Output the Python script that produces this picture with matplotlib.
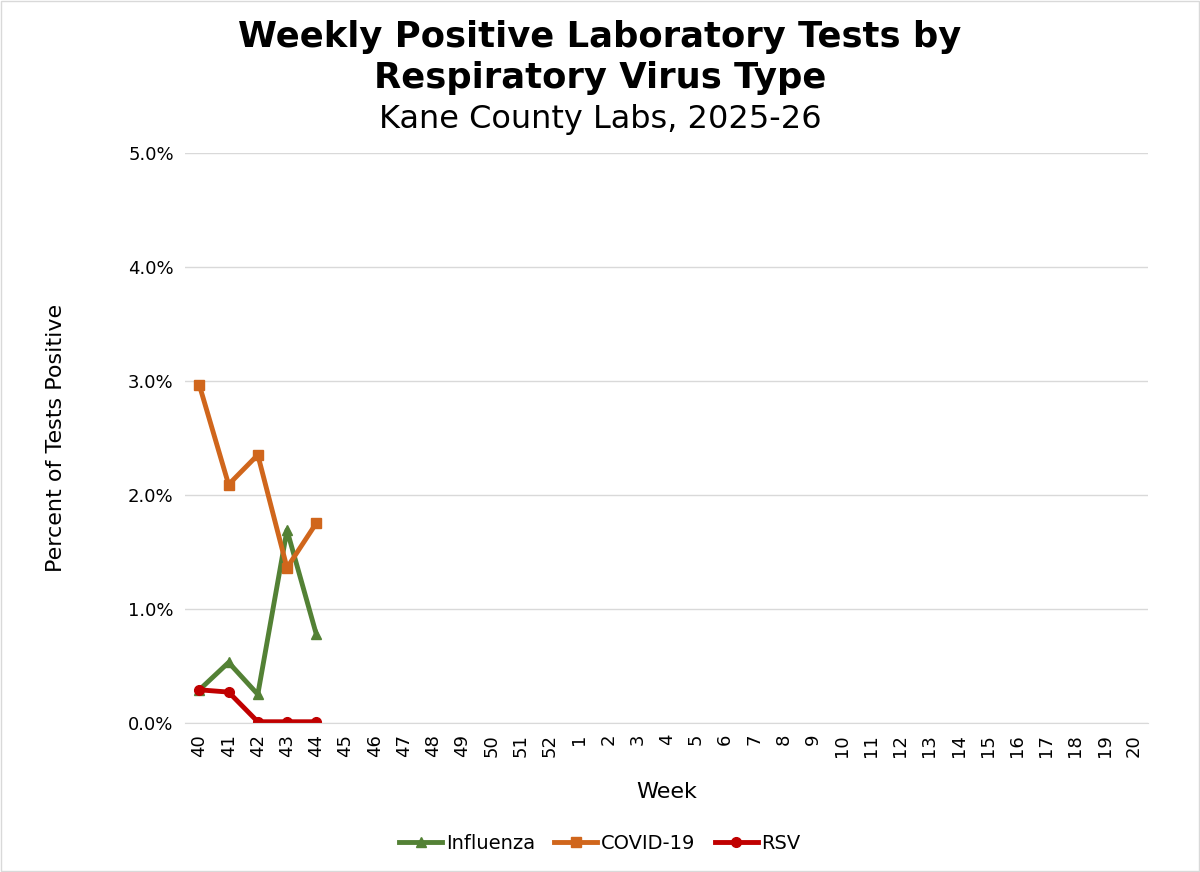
import matplotlib
matplotlib.use("Agg")
import matplotlib.pyplot as plt

weeks = [str(w) for w in list(range(40, 53)) + list(range(1, 21))]
influenza = [0.29, 0.53, 0.25, 1.69, 0.78]
covid = [2.96, 2.09, 2.35, 1.36, 1.75]
rsv = [0.29, 0.27, 0.01, 0.01, 0.01]

fig = plt.figure(figsize=(12, 8.72), dpi=100)
ax = fig.add_axes([0.154, 0.171, 0.803, 0.654])
x = list(range(len(weeks)))
ax.plot(x[:len(influenza)], influenza, color="#538135", lw=3.5, marker="^", ms=7, label="Influenza")
ax.plot(x[:len(covid)], covid, color="#D0661C", lw=3.5, marker="s", ms=7, label="COVID-19")
ax.plot(x[:len(rsv)], rsv, color="#C00000", lw=3.5, marker="o", ms=7, label="RSV")
ax.set_xlim(-0.5, len(weeks) - 0.5)
ax.set_ylim(0, 5)
ax.set_yticks([0, 1, 2, 3, 4, 5])
ax.set_yticklabels([f"{v:.1f}%" for v in range(6)], fontsize=13)
ax.set_xticks(x)
ax.set_xticklabels(weeks, rotation=90, fontsize=13)
ax.grid(axis="y", color="#d9d9d9", lw=1)
ax.set_axisbelow(True)
for s in ["top", "right", "left"]:
    ax.spines[s].set_visible(False)
ax.spines["bottom"].set_color("#d9d9d9")
ax.tick_params(length=0, pad=8)
ax.set_xlabel("Week", fontsize=16, labelpad=18)
ax.set_ylabel("Percent of Tests Positive", fontsize=16, labelpad=45)
fig.text(0.5, 0.957, "Weekly Positive Laboratory Tests by", ha="center", va="center", fontsize=25.5, fontweight="bold")
fig.text(0.5, 0.91, "Respiratory Virus Type", ha="center", va="center", fontsize=25.5, fontweight="bold")
fig.text(0.5, 0.863, "Kane County Labs, 2025-26", ha="center", va="center", fontsize=23)
fig.legend(loc="center", bbox_to_anchor=(0.5, 0.033), ncol=3, frameon=False, fontsize=14,
           handlelength=2.2, columnspacing=1.0, handletextpad=0.2)
fig.patches.append(plt.Rectangle((0.001, 0.001), 0.998, 0.998, transform=fig.transFigure,
                                 fill=False, edgecolor="#d9d9d9", lw=1))
fig.savefig("out.png", dpi=100)
